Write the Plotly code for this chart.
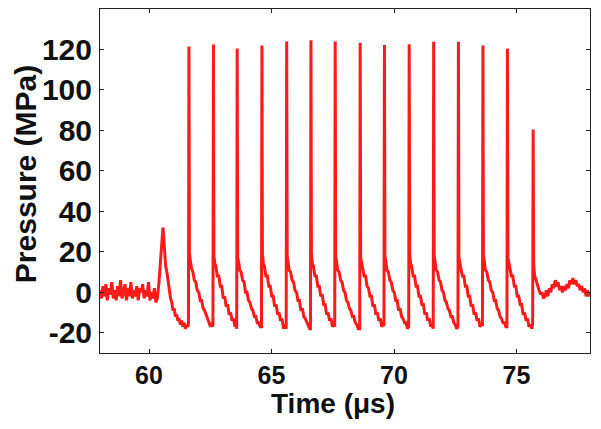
import plotly.graph_objects as go

# ---- Data (time in µs, pressure in MPa) ----
baseline_t = [58.00, 58.06, 58.12, 58.18, 58.24, 58.30, 58.36, 58.42, 58.48, 58.54,
              58.60, 58.66, 58.72, 58.78, 58.84, 58.90, 58.96, 59.02, 59.08, 59.14,
              59.20, 59.26, 59.32, 59.38, 59.44, 59.50, 59.56, 59.62, 59.68, 59.74,
              59.80, 59.86, 59.92, 59.98, 60.04, 60.10, 60.16, 60.22, 60.28, 60.34]
baseline_p = [1, -3, 3, -2, 4, -4, 2, -1, 5, -3,
              1, -4, 3, -2, 6, -3, 0, 4, -4, 2,
              -2, 5, -3, 1, -2, 3, -4, 2, 0, 4,
              -3, 1, -2, 5, -4, 0, -3, 2, -5, -3]

first_pulse_t = [60.40, 60.46, 60.52, 60.57, 60.60, 60.64, 60.68, 60.73, 60.78, 60.83,
                 60.88, 60.93, 60.98, 61.03, 61.08, 61.13, 61.18, 61.23, 61.28, 61.33,
                 61.38, 61.43, 61.48, 61.53, 61.58]
first_pulse_p = [4, 14, 25, 32, 27, 20, 13, 10, 5, 2,
                 -3, -5, -9, -8, -12, -11, -14, -13, -16, -14,
                 -17, -15, -18, -16, -17]

pulses_t = [
    61.61, 61.63, 61.65, 61.69, 61.73, 61.79, 61.85, 61.91, 61.97, 62.03, 62.09, 62.15, 62.21, 62.27, 62.33, 62.39, 62.45, 62.51, 62.57,
    62.61, 62.63, 62.65, 62.69, 62.73, 62.79, 62.85, 62.91, 62.97, 63.03, 63.09, 63.15, 63.21, 63.27, 63.33, 63.39, 63.45, 63.51, 63.56,
    63.58, 63.60, 63.62, 63.66, 63.70, 63.76, 63.82, 63.88, 63.94, 64.00, 64.06, 64.12, 64.18, 64.24, 64.30, 64.36, 64.42, 64.48, 64.54,
    64.59, 64.61, 64.63, 64.67, 64.71, 64.77, 64.83, 64.89, 64.95, 65.01, 65.07, 65.13, 65.19, 65.25, 65.31, 65.37, 65.43, 65.49, 65.55,
    65.60, 65.62, 65.64, 65.68, 65.72, 65.78, 65.84, 65.90, 65.96, 66.02, 66.08, 66.14, 66.20, 66.26, 66.32, 66.38, 66.44, 66.50, 66.56,
    66.59, 66.61, 66.63, 66.67, 66.71, 66.77, 66.83, 66.89, 66.95, 67.01, 67.07, 67.13, 67.19, 67.25, 67.31, 67.37, 67.43, 67.49, 67.55,
    67.58, 67.60, 67.62, 67.66, 67.70, 67.76, 67.82, 67.88, 67.94, 68.00, 68.06, 68.12, 68.18, 68.24, 68.30, 68.36, 68.42, 68.48, 68.54,
    68.60, 68.62, 68.64, 68.68, 68.72, 68.78, 68.84, 68.90, 68.96, 69.02, 69.08, 69.14, 69.20, 69.26, 69.32, 69.38, 69.44, 69.50, 69.56,
    69.59, 69.61, 69.63, 69.67, 69.71, 69.77, 69.83, 69.89, 69.95, 70.01, 70.07, 70.13, 70.19, 70.25, 70.31, 70.37, 70.43, 70.49, 70.55,
    70.60, 70.62, 70.64, 70.68, 70.72, 70.78, 70.84, 70.90, 70.96, 71.02, 71.08, 71.14, 71.20, 71.26, 71.32, 71.38, 71.44, 71.50, 71.56,
    71.60, 71.62, 71.64, 71.68, 71.72, 71.78, 71.84, 71.90, 71.96, 72.02, 72.08, 72.14, 72.20, 72.26, 72.32, 72.38, 72.44, 72.50, 72.56,
    72.61, 72.63, 72.65, 72.69, 72.73, 72.79, 72.85, 72.91, 72.97, 73.03, 73.09, 73.15, 73.21, 73.27, 73.33, 73.39, 73.45, 73.51, 73.57,
    73.61, 73.63, 73.65, 73.69, 73.73, 73.79, 73.85, 73.91, 73.97, 74.03, 74.09, 74.15, 74.21, 74.27, 74.33, 74.39, 74.45, 74.51, 74.57,
    74.61, 74.63, 74.65, 74.69, 74.73, 74.79, 74.85, 74.91, 74.97, 75.03, 75.09, 75.15, 75.21, 75.27, 75.33, 75.39, 75.45, 75.51, 75.57, 75.63,
]
pulses_p = [
    -16, 121.5, 19, 15, 12, 10, 6, 5, 1, 0, -4, -4, -8, -9, -11, -13, -14, -17, -15,
    -17, 122.5, 18, 14, 13, 8, 8, 3, 3, -3, -2, -7, -6, -11, -10, -14, -13, -17, -16,
    -18, 120.5, 17, 15, 11, 10, 6, 5, 0, 0, -4, -5, -8, -9, -12, -12, -15, -15, -17,
    -17, 122.0, 19, 14, 13, 8, 8, 3, 3, -2, -2, -7, -6, -11, -10, -14, -13, -18, -16,
    -18, 124.0, 18, 15, 11, 10, 6, 5, 1, 0, -4, -4, -9, -8, -12, -13, -15, -16, -18,
    -18, 124.5, 19, 14, 13, 8, 8, 3, 3, -2, -1, -6, -6, -11, -10, -14, -13, -17, -16,
    -17, 124.0, 18, 15, 11, 10, 6, 5, 1, 0, -4, -5, -8, -9, -12, -12, -15, -16, -18,
    -18, 123.3, 17, 14, 13, 8, 8, 3, 2, -2, -2, -7, -6, -11, -10, -14, -13, -17, -16,
    -16, 122.2, 18, 15, 11, 10, 6, 5, 1, 0, -4, -4, -9, -8, -12, -13, -15, -15, -18,
    -17, 122.6, 19, 14, 13, 8, 8, 3, 3, -2, -2, -6, -6, -11, -10, -14, -13, -17, -16,
    -18, 123.8, 18, 15, 11, 10, 6, 5, 1, 0, -4, -5, -8, -9, -12, -12, -15, -16, -18,
    -17, 123.8, 17, 14, 13, 8, 8, 3, 3, -2, -2, -7, -6, -11, -10, -14, -13, -17, -16,
    -16, 122.0, 18, 15, 11, 10, 6, 5, 1, 0, -4, -4, -8, -9, -12, -13, -15, -15, -17,
    -17, 120.3, 17, 14, 13, 8, 8, 3, 3, -2, -2, -6, -6, -11, -10, -14, -13, -17, -16, -18,
]

last_pulse_t = [75.66, 75.68, 75.70, 75.74, 75.80, 75.86, 75.92, 75.98, 76.04, 76.10, 76.16]
last_pulse_p = [-15, 80.5, 14, 8, 6, 3, 1, -1, 0, -3, -2]

tail_t = [76.22, 76.28, 76.34, 76.40, 76.46, 76.52, 76.58, 76.64, 76.70, 76.76,
          76.82, 76.88, 76.94, 77.00, 77.06, 77.12, 77.18, 77.24, 77.30, 77.36,
          77.42, 77.48, 77.54, 77.60, 77.66, 77.72, 77.78, 77.84, 77.90, 77.96, 78.00]
tail_p = [1, -2, 2, 0, 4, 2, 6, 3, 5, 1,
          3, 0, 3, 1, 4, 2, 6, 4, 7, 4,
          6, 3, 4, 1, 3, 0, 2, -2, 1, -2, 0]

x_ticks = [60, 65, 70, 75]
y_ticks = [-20, 0, 20, 40, 60, 80, 100, 120]

time_us = baseline_t + first_pulse_t + pulses_t + last_pulse_t + tail_t
pressure_mpa = baseline_p + first_pulse_p + pulses_p + last_pulse_p + tail_p

FONT = "Liberation Sans, Arial, sans-serif"

fig = go.Figure()
fig.add_trace(go.Scatter(
    x=time_us, y=pressure_mpa, mode="lines",
    line=dict(color="#ff1a1a", width=3),
    hoverinfo="skip", showlegend=False,
))

axis_common = dict(
    showline=True, linecolor="#222", linewidth=1, mirror="ticks",
    ticks="inside", ticklen=4, tickwidth=1, tickcolor="#222",
    showgrid=False, zeroline=False, automargin=False,
)

# The page body has an 8px default margin, so the figure is sized to fit inside the 601x429 window.
fig.update_layout(
    width=593, height=421,
    margin=dict(l=92, r=11, t=1, b=76),
    paper_bgcolor="white", plot_bgcolor="white",
    xaxis=dict(range=[58, 78], tickvals=x_ticks, ticktext=[str(v) for v in x_ticks],
               tickfont=dict(family=FONT, size=25, color="#111", weight="bold"),
               ticklabelstandoff=0, **axis_common),
    yaxis=dict(range=[-30, 140], tickvals=y_ticks, ticktext=[str(v) for v in y_ticks],
               tickfont=dict(family=FONT, size=30, color="#111", weight="bold"),
               ticklabelstandoff=1, **axis_common),
    annotations=[
        dict(text="Time (μs)", xref="paper", yref="paper", x=0.4755, y=-0.148,
             xanchor="center", yanchor="middle", showarrow=False,
             font=dict(family=FONT, size=28, color="#111", weight="bold")),
        dict(text="Pressure (MPa)", xref="paper", yref="paper", x=-0.153, y=0.52,
             xanchor="center", yanchor="middle", textangle=-90, showarrow=False,
             font=dict(family=FONT, size=30, color="#111", weight="bold")),
    ],
)

fig.write_html("out.html")
